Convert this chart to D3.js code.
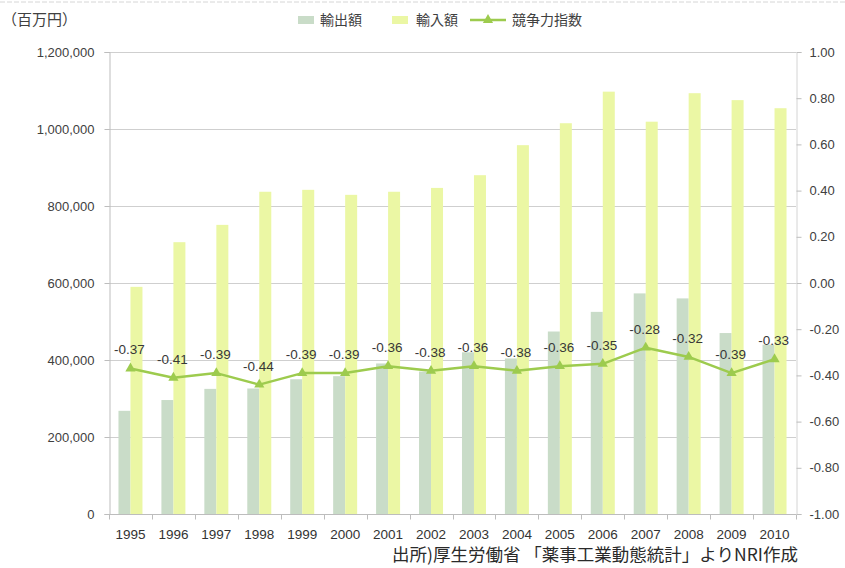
<!DOCTYPE html>
<html>
<head>
<meta charset="utf-8">
<script src="https://cdn.jsdelivr.net/npm/d3@7"></script>
<style>
  html, body { margin: 0; padding: 0; background: #ffffff; }
  svg { display: block; }
</style>
</head>
<body>
<svg id="chart" width="845" height="568"></svg>
<script>
// Pharmaceutical trade: exports, imports (million yen) and competitiveness index
const years = ["1995","1996","1997","1998","1999","2000","2001","2002","2003","2004","2005","2006","2007","2008","2009","2010"];
const exportValues = [268000, 296000, 325000, 326000, 350000, 358000, 391000, 370000, 420000, 404000, 474000, 525000, 573000, 560000, 470000, 440000];
const importValues = [590000, 706000, 751000, 837000, 842000, 829000, 837000, 847000, 880000, 958000, 1015000, 1097000, 1019000, 1093000, 1075000, 1054000];
const indexValues = [-0.37, -0.41, -0.39, -0.44, -0.39, -0.39, -0.36, -0.38, -0.36, -0.38, -0.36, -0.35, -0.28, -0.32, -0.39, -0.33];
const leftTicks = [0, 200000, 400000, 600000, 800000, 1000000, 1200000];
const rightTicks = [-1.0, -0.8, -0.6, -0.4, -0.2, 0.0, 0.2, 0.4, 0.6, 0.8, 1.0];
const seriesNames = ["輸出額", "輸入額", "競争力指数"];
const unitLabel = "（百万円）";
const sourceNote = "出所)厚生労働省 「薬事工業動態統計」よりNRI作成";

const colExport = "#c9dcc8";
const colImport = "#ebf7a4";
const colLine = "#9dcb4e";
const colText = "#404040";
const colGrid = "#cfcfcf";
const latin = "'Liberation Sans', Arial, sans-serif";
const cjk = "'Noto Sans CJK JP', 'Noto Sans CJK SC', sans-serif";

const svg = d3.select("#chart");
const plotLeft = 109, plotRight = 796, plotTop = 52, plotBottom = 514;

const x = d3.scaleBand().domain(years).range([plotLeft, plotRight]);
const yL = d3.scaleLinear().domain([0, 1200000]).range([plotBottom, plotTop]);
const yR = d3.scaleLinear().domain([-1, 1]).range([plotBottom, plotTop]);
const barW = 12;

// faint edge rule along the top
svg.append("line")
  .attr("x1", 0).attr("x2", 845).attr("y1", 2).attr("y2", 2)
  .attr("stroke", "#d6d6d6").attr("stroke-dasharray", "5,2");

// horizontal gridlines
svg.append("g")
  .selectAll("line")
  .data(leftTicks.filter(d => d > 0))
  .join("line")
  .attr("x1", plotLeft).attr("x2", plotRight)
  .attr("y1", d => Math.round(yL(d)) + 0.5).attr("y2", d => Math.round(yL(d)) + 0.5)
  .attr("stroke", colGrid).attr("stroke-width", 1);

// bars
const bars = svg.append("g");
bars.selectAll("rect.exp")
  .data(years)
  .join("rect")
  .attr("class", "exp")
  .attr("x", d => x(d) + x.bandwidth() / 2 - barW)
  .attr("width", barW)
  .attr("y", (d, i) => yL(exportValues[i]))
  .attr("height", (d, i) => yL(0) - yL(exportValues[i]))
  .attr("fill", colExport);
bars.selectAll("rect.imp")
  .data(years)
  .join("rect")
  .attr("class", "imp")
  .attr("x", d => x(d) + x.bandwidth() / 2)
  .attr("width", barW)
  .attr("y", (d, i) => yL(importValues[i]))
  .attr("height", (d, i) => yL(0) - yL(importValues[i]))
  .attr("fill", colImport);

// left axis
const axL = svg.append("g")
  .attr("transform", `translate(${plotLeft + 0.5},0)`)
  .call(d3.axisLeft(yL).tickValues(leftTicks).tickSize(5).tickPadding(10)
    .tickFormat(d3.format(",")));
axL.select(".domain").attr("stroke", "#bdbdbd");
axL.selectAll(".tick line").attr("stroke", "#bdbdbd");
axL.selectAll("text").attr("font-family", latin).attr("font-size", 13).attr("fill", colText);

// right axis
const axR = svg.append("g")
  .attr("transform", `translate(${plotRight + 0.5},0)`)
  .call(d3.axisRight(yR).tickValues(rightTicks).tickSize(5).tickPadding(8)
    .tickFormat(d3.format(".2f")));
axR.select(".domain").attr("stroke", "#d4d4d4");
axR.selectAll(".tick line").attr("stroke", "#bdbdbd");
axR.selectAll("text").attr("font-family", latin).attr("font-size", 13).attr("fill", colText)
  .text(d => d3.format(".2f")(d).replace("−", "-"));

// bottom axis with ticks between categories
const axB = svg.append("g").attr("transform", `translate(0,${plotBottom + 0.5})`);
axB.append("line").attr("x1", plotLeft).attr("x2", plotRight).attr("stroke", "#bdbdbd");
axB.selectAll("line.tk")
  .data(years.concat(["end"]))
  .join("line")
  .attr("class", "tk")
  .attr("x1", (d, i) => Math.round(plotLeft + i * x.step()) + 0.5)
  .attr("x2", (d, i) => Math.round(plotLeft + i * x.step()) + 0.5)
  .attr("y1", 0).attr("y2", 5)
  .attr("stroke", "#bdbdbd");
axB.selectAll("text")
  .data(years)
  .join("text")
  .attr("x", d => x(d) + x.bandwidth() / 2)
  .attr("y", 24)
  .attr("text-anchor", "middle")
  .attr("font-family", latin).attr("font-size", 13.5).attr("fill", "#333")
  .text(d => d);

// competitiveness index line
const cx = d => x(d) + x.bandwidth() / 2;
const line = d3.line().x((d, i) => cx(years[i])).y(d => yR(d));
svg.append("path")
  .datum(indexValues)
  .attr("d", line)
  .attr("fill", "none")
  .attr("stroke", colLine)
  .attr("stroke-width", 2.5)
  .attr("stroke-linejoin", "round");

const tri = d3.symbol().type(d3.symbolTriangle).size(45);
svg.append("g")
  .selectAll("path")
  .data(indexValues)
  .join("path")
  .attr("transform", (d, i) => `translate(${cx(years[i])},${yR(d)})`)
  .attr("d", tri)
  .attr("fill", colLine);

svg.append("g")
  .selectAll("text")
  .data(indexValues)
  .join("text")
  .attr("x", (d, i) => cx(years[i]) - 1)
  .attr("y", d => yR(d) - 14)
  .attr("text-anchor", "middle")
  .attr("font-family", latin).attr("font-size", 13.5).attr("fill", "#383838")
  .text(d => d3.format(".2f")(d).replace("−", "-"));

// unit label
svg.append("text")
  .attr("x", 2).attr("y", 25)
  .attr("font-family", cjk).attr("font-size", 15).attr("fill", colText)
  .text(unitLabel);

// legend
const lg = svg.append("g");
lg.append("rect").attr("x", 298).attr("y", 16).attr("width", 16).attr("height", 8).attr("fill", colExport);
lg.append("text").attr("x", 320).attr("y", 25)
  .attr("font-family", cjk).attr("font-size", 14).attr("fill", colText).text(seriesNames[0]);
lg.append("rect").attr("x", 392).attr("y", 16).attr("width", 16).attr("height", 8).attr("fill", colImport);
lg.append("text").attr("x", 416).attr("y", 25)
  .attr("font-family", cjk).attr("font-size", 14).attr("fill", colText).text(seriesNames[1]);
lg.append("line").attr("x1", 470).attr("x2", 506).attr("y1", 20).attr("y2", 20)
  .attr("stroke", colLine).attr("stroke-width", 2.5);
lg.append("path").attr("transform", "translate(488,20)").attr("d", tri).attr("fill", colLine);
lg.append("text").attr("x", 512).attr("y", 25)
  .attr("font-family", cjk).attr("font-size", 14).attr("fill", colText).text(seriesNames[2]);

// source note
svg.append("text")
  .attr("x", 392).attr("y", 561)
  .attr("font-family", cjk).attr("font-size", 17.5).attr("fill", "#2a2a2a")
  .text(sourceNote);
</script>
</body>
</html>
